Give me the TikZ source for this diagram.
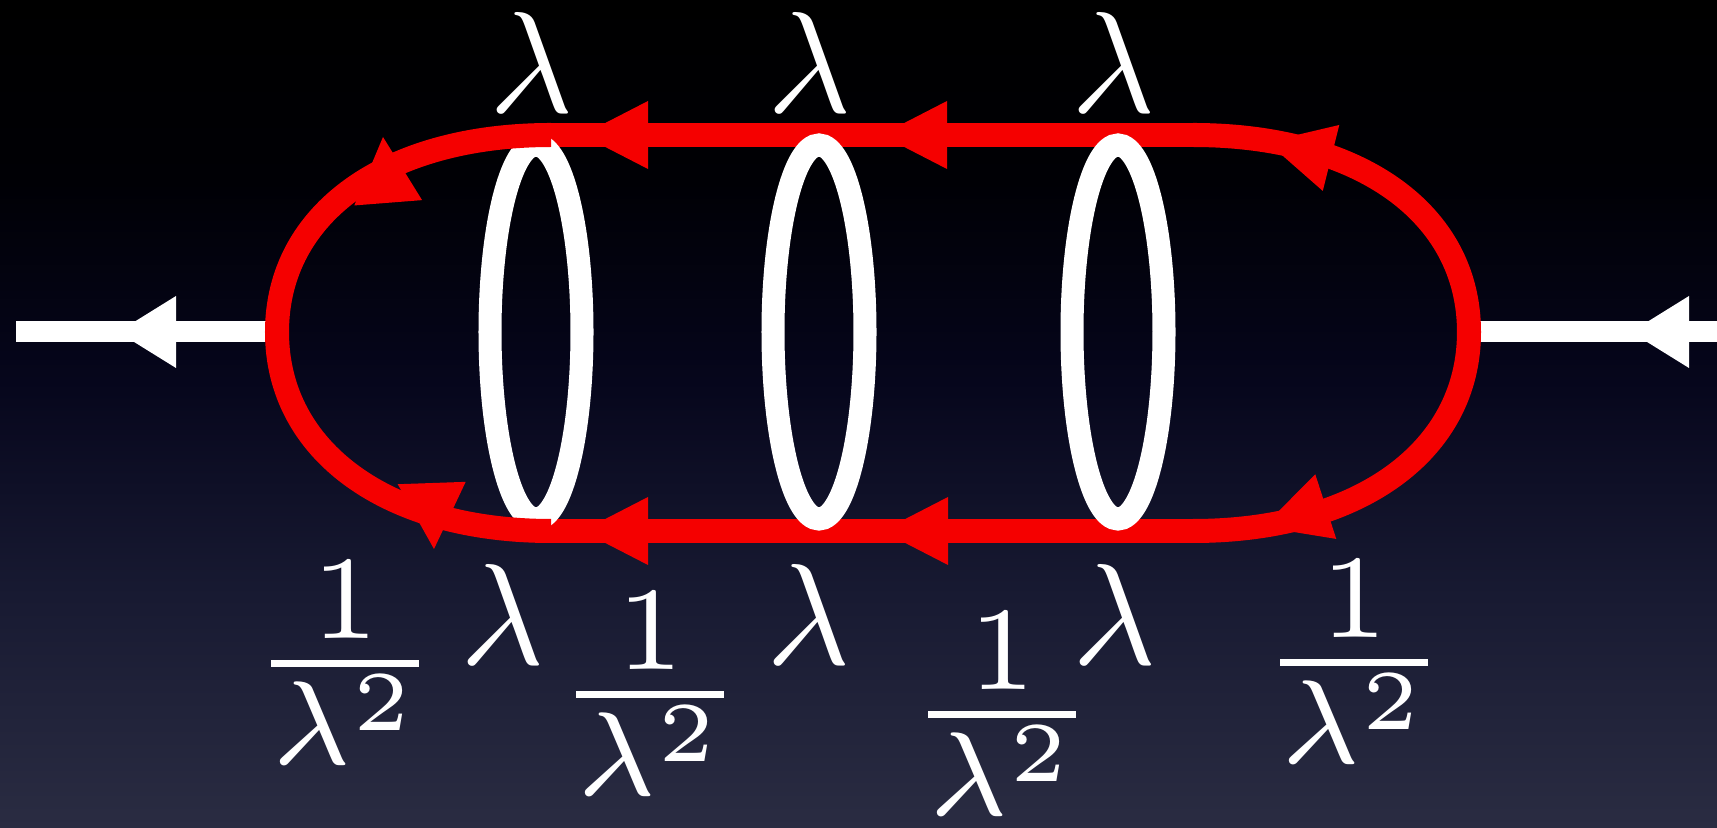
\documentclass[tikz,border=0pt]{standalone}
\usepackage{graphicx}
\definecolor{loopred}{HTML}{F50000}
\definecolor{bgbot}{RGB}{42,44,66}
\definecolor{bglow}{RGB}{24,26,50}
\definecolor{bgmid}{RGB}{6,6,28}
\definecolor{bgdark}{RGB}{0,0,5}
\pgfdeclareverticalshading{backdrop}{100bp}{color(0bp)=(bgbot); color(25bp)=(bgbot); color(39bp)=(bglow); color(52bp)=(bgmid); color(64bp)=(bgdark); color(75bp)=(black); color(100bp)=(black)}
\newcommand{\redtip}[2]{\fill[loopred,shift={(#1)},rotate=#2] (0,0) -- (-66,-34) -- (-66,34) -- cycle;}
\newcommand{\legtip}[2]{\fill[white,shift={(#1)},rotate=#2] (0,0) -- (-58,-36) -- (-58,36) -- cycle;}
\newcommand{\wlam}{\scalebox{4.1}{$\lambda$}}
\newcommand{\wfrac}{\scalebox{4.84}{$\frac{1}{\lambda^2}$}}

\begin{document}
\begin{tikzpicture}[x=0.01cm,y=-0.01cm, prop/.style={draw=loopred,line width=0.24cm}, leg/.style={draw=white,line width=0.21cm}, ring/.style={draw=white,line width=0.23cm}, lam/.style={text=white,inner sep=0pt,anchor=base}]
\useasboundingbox (0,0) rectangle (1717,828);
\shade[shading=backdrop] (0,0) rectangle (1717,828);
% corners of the loop
\coordinate (west) at (277,332); \coordinate (east) at (1469,332);
\coordinate (nw) at (551,135); \coordinate (ne) at (1193,135);
\coordinate (sw) at (551,531); \coordinate (se) at (1193,531);
\coordinate (in) at (1717,332); \coordinate (out) at (16,332);
% external legs
\draw[leg] (in) -- (east); \draw[leg] (west) -- (out);
\legtip{1631,332}{180} \legtip{118,332}{180}
% straight lines
\draw[prop] (ne) -- (nw); \draw[prop] (se) -- (sw);
\redtip{582,135}{180} \redtip{881,135}{180}
\redtip{582,531}{180} \redtip{882,531}{180}
% rungs
\foreach \n/\x in {1/536,2/819,3/1118} {
  \coordinate (rung\n) at (\x,332);
  \draw[ring] (rung\n) ellipse [x radius=46,y radius=187];
}
% curved ends
\draw[prop] (nw) .. controls +(-164,0) and +(0,-119) .. (west);
\draw[prop] (sw) .. controls +(-164,0) and +(0,119) .. (west);
\draw[prop] (ne) .. controls +(166,0) and +(0,-119) .. (east);
\draw[prop] (se) .. controls +(166,0) and +(0,119) .. (east);
\redtip{383,137}{94.5} \redtip{434,549}{-88}
\redtip{1267,142}{166} \redtip{1263,527}{198}
% labels
\node[lam] (up1) at (532,113) {\wlam};
\node[lam] (up2) at (810,113) {\wlam};
\node[lam] (up3) at (1114,113) {\wlam};
\node[lam] (low1) at (503,665) {\wlam};
\node[lam] (low2) at (809,665) {\wlam};
\node[lam] (low3) at (1115,665) {\wlam};
\node[lam] (w1) at (345,706) {\wfrac};
\node[lam] (w2) at (650,737) {\wfrac};
\node[lam] (w3) at (1002,757) {\wfrac};
\node[lam] (w4) at (1354,705) {\wfrac};
\end{tikzpicture}
\end{document}
